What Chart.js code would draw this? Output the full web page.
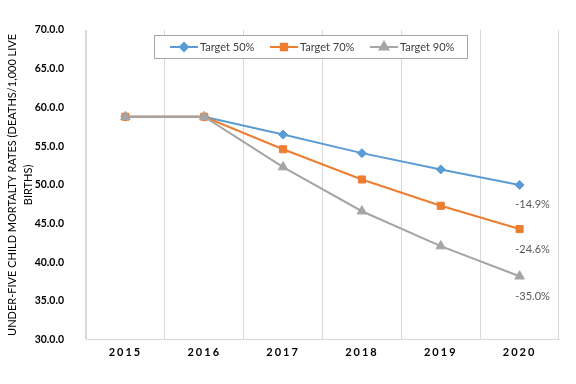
<!DOCTYPE html>
<html>
<head>
<meta charset="utf-8">
<script src="https://cdn.jsdelivr.net/npm/chart.js@4/dist/chart.umd.min.js"></script>
<style>
  html, body { margin: 0; padding: 0; background: #fff; }
  #wrap { width: 576px; height: 384px; }
</style>
</head>
<body>
<div id="wrap"><canvas id="mortalityChart"></canvas></div>
<script>
// data
const years = ['2015', '2016', '2017', '2018', '2019', '2020'];
const target50 = [58.8, 58.8, 56.5, 54.1, 52.0, 50.0];
const target70 = [58.8, 58.8, 54.6, 50.7, 47.3, 44.3];
const target90 = [58.8, 58.8, 52.3, 46.6, 42.1, 38.2];
const endLabels = ['-14.9%', '-24.6%', '-35.0%'];
const seriesNames = ['Target 50%', 'Target 70%', 'Target 90%'];

const COLORS = ['#5B9BD5', '#ED7D31', '#A5A5A5'];
const FONT = 'Lato, "Open Sans", "Liberation Sans", sans-serif';

// legend drawn inside the plot, Excel style (line + marker in a box)
const boxLegend = {
    id: 'boxLegend',
    afterDraw(chart) {
        const ctx = chart.ctx;
        const x0 = 154, y0 = 35, w = 313, h = 23;
        ctx.save();
        ctx.fillStyle = '#fff';
        ctx.fillRect(x0, y0, w, h);
        ctx.strokeStyle = '#A6A6A6';
        ctx.lineWidth = 1;
        ctx.strokeRect(x0 + 0.5, y0 + 0.5, w, h);
        const cy = y0 + h / 2 + 0.5;
        const starts = [170, 270, 370];
        chart.data.datasets.forEach((ds, i) => {
            const sx = starts[i];
            ctx.strokeStyle = ds.borderColor;
            ctx.lineWidth = 2;
            ctx.beginPath();
            ctx.moveTo(sx, cy);
            ctx.lineTo(sx + 28, cy);
            ctx.stroke();
            ctx.fillStyle = ds.borderColor;
            ctx.strokeStyle = ds.borderColor;
            Chart.helpers.drawPoint(ctx, {
                pointStyle: ds.pointStyle,
                radius: ds.pointRadius - 0.5,
                rotation: 0,
                borderWidth: 1
            }, sx + 14, cy);
            ctx.fillStyle = '#404040';
            ctx.font = '11px ' + FONT;
            ctx.textBaseline = 'middle';
            ctx.textAlign = 'left';
            ctx.fillText(seriesNames[i], sx + 30, cy);
        });
        ctx.restore();
    }
};

// percentage change labels under the 2020 points
const endText = {
    id: 'endText',
    afterDatasetsDraw(chart) {
        const ctx = chart.ctx;
        ctx.save();
        ctx.font = '11px ' + FONT;
        ctx.fillStyle = '#595959';
        ctx.textAlign = 'center';
        ctx.textBaseline = 'middle';
        chart.data.datasets.forEach((ds, i) => {
            const pt = chart.getDatasetMeta(i).data[years.length - 1];
            ctx.fillText(endLabels[i], pt.x + 13, pt.y + 20);
        });
        ctx.restore();
    }
};

// spaced-out year labels
const spacedYears = {
    id: 'spacedYears',
    beforeDraw(chart) {
        const xs = chart.scales.x;
        if (xs._spaced) return;
        const orig = xs.drawLabels;
        xs.drawLabels = function (area) {
            const c = this.ctx;
            c.save();
            c.letterSpacing = '2px';
            orig.call(this, area);
            c.restore();
        };
        xs._spaced = true;
    }
};

new Chart(document.getElementById('mortalityChart'), {
    type: 'line',
    data: {
        labels: years,
        datasets: [
            { label: seriesNames[0], data: target50, borderColor: COLORS[0], backgroundColor: COLORS[0],
              pointStyle: 'rectRot', pointRadius: 4.5, order: 3 },
            { label: seriesNames[1], data: target70, borderColor: COLORS[1], backgroundColor: COLORS[1],
              pointStyle: 'rect', pointRadius: 5, order: 2 },
            { label: seriesNames[2], data: target90, borderColor: COLORS[2], backgroundColor: COLORS[2],
              pointStyle: 'triangle', pointRadius: 5.5, order: 1 }
        ].map(d => Object.assign(d, { borderWidth: 2, tension: 0, pointBorderWidth: 1, fill: false }))
    },
    options: {
        responsive: true,
        maintainAspectRatio: false,
        animation: false,
        layout: { padding: { top: 30, right: 17, bottom: 19, left: 0 } },
        plugins: {
            legend: { display: false },
            tooltip: { enabled: false }
        },
        scales: {
            x: {
                offset: true,
                grid: { display: true, offset: true, color: '#D9D9D9', drawTicks: false },
                border: { display: true, color: '#D9D9D9' },
                ticks: {
                    padding: 6,
                    color: '#000',
                    font: { family: FONT, size: 11, weight: 'bold' }
                }
            },
            y: {
                min: 30,
                max: 70,
                afterFit: s => { s.width = 86; },
                grid: { display: false },
                border: { display: true, color: '#D9D9D9' },
                ticks: {
                    stepSize: 5,
                    padding: 14,
                    color: '#000',
                    font: { family: FONT, size: 10.5, weight: 'bold' },
                    callback: v => v.toFixed(1) + '.0'
                },
                title: {
                    display: true,
                    text: ['UNDER-FIVE CHILD MORTALTY RATES (DEATHS/1,000 LIVE', 'BIRTHS)'],
                    color: '#000',
                    font: { family: FONT, size: 11, lineHeight: 1.5 },
                    padding: { top: 4, bottom: 0 }
                }
            }
        }
    },
    plugins: [boxLegend, endText, spacedYears]
});
</script>
</body>
</html>
